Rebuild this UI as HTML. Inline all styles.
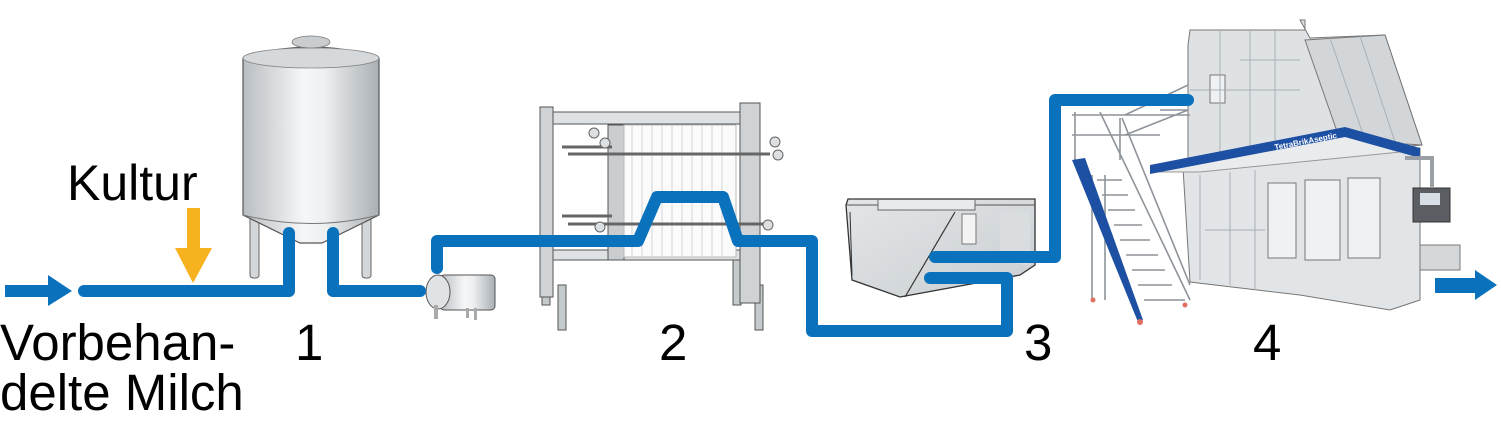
<!DOCTYPE html>
<html><head><meta charset="utf-8"><style>
html,body{margin:0;padding:0;background:#fff;width:1501px;height:431px;overflow:hidden}
svg{display:block}
text{font-family:"Liberation Sans",sans-serif;fill:#000}
</style></head><body>
<svg width="1501" height="431" viewBox="0 0 1501 431" xmlns="http://www.w3.org/2000/svg">
<defs>
<linearGradient id="tk" x1="0" x2="1" y1="0" y2="0">
<stop offset="0" stop-color="#b9bec2"/><stop offset="0.45" stop-color="#f6f7f8"/><stop offset="0.6" stop-color="#eef0f1"/><stop offset="1" stop-color="#a9afb4"/></linearGradient>
<linearGradient id="mg" x1="0" x2="1" y1="0" y2="1">
<stop offset="0" stop-color="#e3e6e8"/><stop offset="1" stop-color="#c9ced2"/></linearGradient>
</defs>

<!-- tank 1 -->
<rect x="250" y="200" width="9" height="78" rx="3" fill="#d3d7da" stroke="#666" stroke-width="1"/>
<rect x="362" y="200" width="9" height="78" rx="3" fill="#d3d7da" stroke="#666" stroke-width="1"/>
<path d="M243,58 Q311,36 379,58 L379,215 L322,243 L300,243 L243,215 Z" fill="url(#tk)" stroke="#555" stroke-width="1.2"/>
<path d="M243,215 Q311,232 379,215" fill="none" stroke="#777" stroke-width="1"/>
<ellipse cx="311" cy="58" rx="68" ry="10" fill="#d5d9dc" stroke="#888" stroke-width="0.8"/>
<ellipse cx="311" cy="42" rx="19" ry="6" fill="#c9cdd0" stroke="#777" stroke-width="0.8"/>

<!-- plate heat exchanger -->
<g stroke="#555" stroke-width="1">
<rect x="558" y="285" width="8" height="45" fill="#c5cacd"/>
<rect x="542" y="265" width="8" height="40" fill="#c5cacd"/>
<rect x="733" y="260" width="8" height="45" fill="#c5cacd"/>
<rect x="755" y="285" width="8" height="45" fill="#c5cacd"/>
<rect x="546" y="112" width="210" height="12" fill="#dfe2e4"/>
<rect x="546" y="250" width="200" height="10" fill="#dfe2e4"/>
<rect x="540" y="107" width="13" height="190" fill="#cfd3d6"/>
<rect x="740" y="103" width="20" height="200" fill="#cfd3d6"/>
<rect x="608" y="125" width="16" height="135" fill="#c9cdd0"/>
<rect x="624" y="125" width="112" height="132" fill="#fbfbfb" stroke="#bbb"/>
</g>
<g stroke="#c8ccd0" stroke-width="0.8">
<line x1="632" y1="126" x2="632" y2="256"/><line x1="642" y1="126" x2="642" y2="256"/><line x1="652" y1="126" x2="652" y2="256"/><line x1="662" y1="126" x2="662" y2="256"/><line x1="672" y1="126" x2="672" y2="256"/><line x1="682" y1="126" x2="682" y2="256"/><line x1="692" y1="126" x2="692" y2="256"/><line x1="702" y1="126" x2="702" y2="256"/><line x1="712" y1="126" x2="712" y2="256"/><line x1="722" y1="126" x2="722" y2="256"/>
</g>
<g stroke="#666" stroke-width="3">
<line x1="562" y1="147" x2="612" y2="147"/><line x1="568" y1="154" x2="770" y2="154"/>
<line x1="562" y1="216" x2="612" y2="216"/><line x1="568" y1="224" x2="770" y2="224"/>
</g>
<circle cx="594" cy="133" r="5" fill="#dde0e2" stroke="#666"/><circle cx="605" cy="143" r="5" fill="#dde0e2" stroke="#666"/><circle cx="775" cy="142" r="5" fill="#dde0e2" stroke="#666"/><circle cx="778" cy="155" r="5" fill="#dde0e2" stroke="#666"/>
<circle cx="600" cy="227" r="5" fill="#dde0e2" stroke="#666"/><circle cx="768" cy="225" r="5" fill="#dde0e2" stroke="#666"/>

<!-- pump -->
<rect x="440" y="275" width="55" height="35" rx="4" fill="url(#tk)" stroke="#555"/>
<ellipse cx="438" cy="292" rx="12" ry="17" fill="#e0e3e5" stroke="#555"/>
<rect x="434" y="305" width="4" height="14" fill="#aaa"/><rect x="466" y="308" width="3" height="10" fill="#aaa"/><rect x="474" y="308" width="3" height="12" fill="#aaa"/>

<!-- tank 3 -->
<path d="M846,205 L848,199 L1035,199 L1035,265 L1020,275 L900,297 L852,280 Z" fill="url(#mg)" stroke="#333" stroke-width="1.3"/>
<path d="M846,205 L1035,205" stroke="#555" fill="none"/>
<path d="M878,200 L878,210 L975,210 L975,200" fill="#e8eaec" stroke="#666"/>
<path d="M955,212 L905,297" stroke="#333" stroke-width="1.2"/>
<rect x="962" y="214" width="14" height="30" fill="#f3f3f3" stroke="#777"/>
<path d="M1000,212 L1030,212 L1030,265 L1000,262 Z" fill="#dadde0"/>
<path d="M850,212 L852,275" stroke="#333"/>

<!-- machine 4 -->
<g stroke="#777" stroke-width="1">
<path d="M1188,45 L1190,30 L1305,30 L1305,20 L1300,20 L1310,38 L1385,35 L1422,145 L1188,165 Z" fill="#dfe2e4"/>
<path d="M1305,40 L1385,35 L1422,145 L1340,140 Z" fill="#d2d6d9"/>
<path d="M1183,168 L1420,148 L1420,300 L1390,310 L1300,295 L1190,282 Z" fill="#e2e5e7"/>
<rect x="1268" y="183" width="28" height="75" fill="#eef2f5"/>
<rect x="1305" y="180" width="35" height="80" fill="#eef2f5"/>
<rect x="1348" y="178" width="32" height="80" fill="#eef2f5"/>
<rect x="1210" y="75" width="15" height="28" fill="#eef2f5"/>
<rect x="1420" y="245" width="40" height="25" fill="#d5d8db"/>
</g>
<g stroke="#aab0b5" stroke-width="1" fill="none">
<path d="M1220,30 L1220,160 M1250,30 L1250,158 M1275,30 L1275,155 M1240,60 L1300,60 M1190,90 L1300,90 M1200,175 L1200,280 M1230,172 L1230,285 M1255,170 L1255,290 M1205,230 L1265,230"/>
<path d="M1330,38 L1365,140 M1360,36 L1395,142"/>
</g>
<path d="M1155,172 L1345,128 L1420,150 L1200,172 Z" fill="#e9ebec" stroke="#999"/>
<path d="M1150,165 L1345,127 L1345,137 L1150,174 Z" fill="#1d4fa3"/>
<path d="M1345,127 L1420,148 L1420,158 L1345,137 Z" fill="#1d4fa3"/>
<text x="1275" y="150" font-size="8" font-weight="bold" style="fill:#fff" transform="rotate(-11 1275 150)">TetraBrikAseptic</text>
<rect x="1413" y="188" width="37" height="34" fill="#5a5e63" stroke="#333"/>
<rect x="1420" y="193" width="20" height="12" fill="#d7dee6"/>
<path d="M1405,158 L1432,158 L1432,188" fill="none" stroke="#9aa0a5" stroke-width="4"/>
<!-- stairs -->
<g stroke="#8e949a" stroke-width="1.6" fill="none">
<path d="M1072,115 L1190,115 M1072,135 L1160,135 M1075,112 L1075,160 M1120,118 L1120,160 M1100,112 L1190,300 M1122,118 L1190,285 M1160,110 L1188,110 M1125,115 L1188,85 M1125,135 L1188,110"/>
<path d="M1097,180 L1122,180 M1102,195 L1128,195 M1108,210 L1135,210 M1114,225 L1142,225 M1120,240 L1150,240 M1126,255 L1158,255 M1132,270 L1165,270 M1138,285 L1172,285 M1144,300 L1185,300"/>
<path d="M1092,175 L1092,300 M1105,175 L1105,300"/>
</g>
<path d="M1072,160 L1085,158 L1143,320 L1138,322 Z" fill="#1d4fa3"/>
<circle cx="1140" cy="322" r="3" fill="#e07060"/><circle cx="1093" cy="300" r="2.5" fill="#e07060"/><circle cx="1185" cy="305" r="2.5" fill="#e07060"/>

<!-- pipes -->
<g fill="none" stroke="#0a72bc" stroke-width="12" stroke-linejoin="round" stroke-linecap="round">
<path d="M84,291 L289,291 L289,233"/>
<path d="M333,233 L333,291 L420,291"/>
<path d="M437,268 L437,241 L638,241 L657,197 L723,197 L738,241 L812,241 L812,331 L1007,331 L1007,278 L930,278"/>
<path d="M935,257 L1055,257 L1055,100 L1188,100"/>
</g>
<!-- arrows -->
<path d="M5,285 L48,285 L48,275 L72,291 L48,306 L48,297 L5,297 Z" fill="#0a72bc"/>
<path d="M1435,278 L1475,278 L1475,270 L1497,285 L1475,300 L1475,293 L1435,293 Z" fill="#0a72bc"/>
<path d="M187,208 L200,208 L200,248 L212,248 L193,283 L175,248 L187,248 Z" fill="#f7b21f"/>

<!-- labels -->
<text x="67" y="200" font-size="50">Kultur</text>
<text x="0" y="360" font-size="51">Vorbehan-</text>
<text x="0" y="410" font-size="51">delte Milch</text>
<text x="295" y="360" font-size="51">1</text>
<text x="659" y="360" font-size="51">2</text>
<text x="1024" y="360" font-size="51">3</text>
<text x="1253" y="360" font-size="51">4</text>
</svg>
</body></html>
